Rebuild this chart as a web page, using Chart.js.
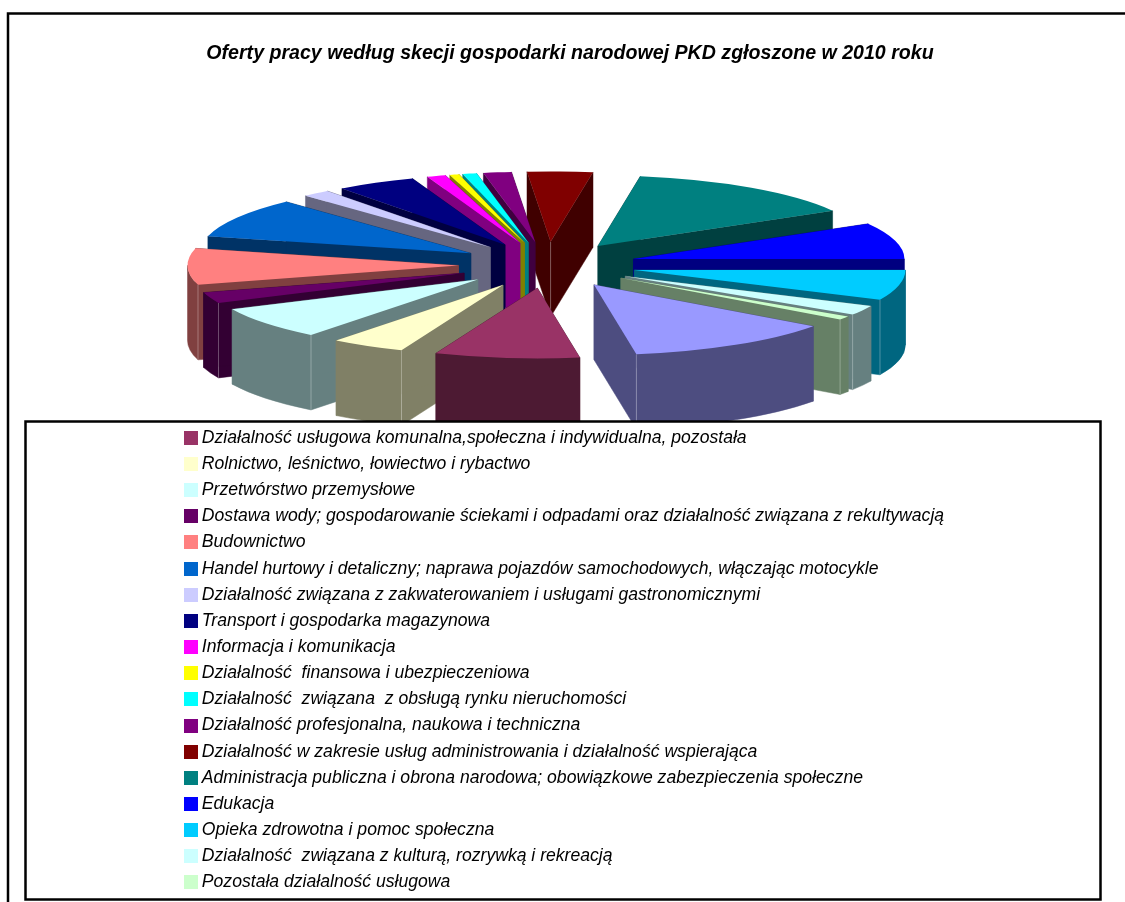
<!DOCTYPE html>
<html lang="pl"><head><meta charset="utf-8">
<style>html,body{margin:0;padding:0;background:#fff;overflow:hidden}canvas{display:block}</style>
<script src="https://cdn.jsdelivr.net/npm/chart.js@4"></script>
</head><body>
<canvas id="c" width="1125" height="902"></canvas>
<script>
const titleText = "Oferty pracy według skecji gospodarki narodowej PKD zgłoszone w 2010 roku";
const categories = [
  "(pozycja poza legendą)",
  "Działalność usługowa komunalna,społeczna i indywidualna, pozostała",
  "Rolnictwo, leśnictwo, łowiectwo i rybactwo",
  "Przetwórstwo przemysłowe",
  "Dostawa wody; gospodarowanie ściekami i odpadami oraz działalność związana z rekultywacją",
  "Budownictwo",
  "Handel hurtowy i detaliczny; naprawa pojazdów samochodowych, włączając motocykle",
  "Działalność związana z zakwaterowaniem i usługami gastronomicznymi",
  "Transport i gospodarka magazynowa",
  "Informacja i komunikacja",
  "Działalność  finansowa i ubezpieczeniowa",
  "Działalność  związana  z obsługą rynku nieruchomości",
  "Działalność profesjonalna, naukowa i techniczna",
  "Działalność w zakresie usług administrowania i działalność wspierająca",
  "Administracja publiczna i obrona narodowa; obowiązkowe zabezpieczenia społeczne",
  "Edukacja",
  "Opieka zdrowotna i pomoc społeczna",
  "Działalność  związana z kulturą, rozrywką i rekreacją",
  "Pozostała działalność usługowa"
];
const shares = [45,31,16,27,9,30,33,6,17,4,2,3,6,14,51,30,25,8,3];
const colors = ["#9999FF","#993366","#FFFFCC","#CCFFFF","#660066","#FF8080","#0066CC","#CCCCFF","#000080","#FF00FF","#FFFF00","#00FFFF","#800080","#800000","#008080","#0000FF","#00CCFF","#CCFFFF","#CCFFCC"];

const PIE = {cx:547.5, cy:265, radius:271, squash:0.26, explode:89, depth:75, clipBottom:421};

function darken(hex){
  const n = parseInt(hex.slice(1),16);
  return `rgb(${(n>>16&255)*0.5},${(n>>8&255)*0.5},${(n&255)*0.5})`;
}
function swatch(color){
  const s = document.createElement('canvas'); s.width = 14; s.height = 14;
  const g = s.getContext('2d'); g.fillStyle = color; g.fillRect(0,0,14,14);
  return s;
}
const pie3d = {
  id:'pie3d',
  afterLayout(chart){
    const l = chart.legend;
    l.left = 179.5; l.right = 1100; l.top = 420.5; l.bottom = 902;
    const t = chart.titleBlock;
    t.left += 7.5; t.right += 7.5;
  },
  beforeDatasetDraw(chart, args){
    const ctx = chart.ctx, meta = args.meta;
    const {cx,cy,radius:R,squash:k,explode:E,depth:h,clipBottom} = PIE;
    const order = meta.data.map((el,i)=>({el,i,mid:(el.startAngle+el.endAngle)/2}))
      .sort((a,b)=>Math.sin(a.mid)-Math.sin(b.mid));
    ctx.save();
    ctx.beginPath(); ctx.rect(0,0,chart.width,clipBottom); ctx.clip();
    for(const {el,i,mid} of order){
      const ax = cx + Math.cos(mid)*E, ay = cy + Math.sin(mid)*E*k;
      const a = el.startAngle, b = el.endAngle;
      const pa = [ax+Math.cos(a)*R, ay+Math.sin(a)*R*k], pb = [ax+Math.cos(b)*R, ay+Math.sin(b)*R*k];
      const side = darken(colors[i]);
      ctx.fillStyle = side; ctx.strokeStyle = side; ctx.lineWidth = 0.5;
      for(const p of [pa,pb]){
        ctx.beginPath();
        ctx.moveTo(ax,ay); ctx.lineTo(p[0],p[1]); ctx.lineTo(p[0],p[1]+h); ctx.lineTo(ax,ay+h); ctx.closePath();
        ctx.fill(); ctx.stroke();
      }
      // outer wall: only the part of the rim that faces the viewer
      for(let n=-1;n<=1;n++){
        const s = Math.max(a,2*Math.PI*n), e = Math.min(b,2*Math.PI*n+Math.PI);
        if(e<=s) continue;
        ctx.beginPath();
        ctx.ellipse(ax,ay,R,R*k,0,s,e,false);
        ctx.ellipse(ax,ay+h,R,R*k,0,e,s,true);
        ctx.closePath(); ctx.fill(); ctx.stroke();
      }
      // faint highlight on visible vertical edges
      ctx.strokeStyle = 'rgba(255,255,255,0.3)'; ctx.lineWidth = 1;
      const vline = (x,y)=>{ctx.beginPath();ctx.moveTo(x,y);ctx.lineTo(x,y+h);ctx.stroke();};
      if(Math.cos(b)>0 && Math.sin(b)>0) vline(pb[0],pb[1]);
      if(Math.cos(a)<0 && Math.sin(a)>0) vline(pa[0],pa[1]);
      if(Math.cos(b)>0 && Math.cos(a)<0) vline(ax,ay);
      ctx.save();
      ctx.translate(ax,ay); ctx.scale(1,k); ctx.translate(-el.x,-el.y);
      el.draw(ctx);
      ctx.restore();
    }
    ctx.restore();
    return false;
  },
  afterDraw(chart){
    const ctx = chart.ctx;
    ctx.save();
    ctx.strokeStyle = '#000'; ctx.lineWidth = 2.5;
    ctx.beginPath(); ctx.moveTo(8,902); ctx.lineTo(8,13.5); ctx.lineTo(1125,13.5); ctx.stroke();
    ctx.strokeRect(25.5,421.5,1075,478);
    ctx.restore();
  }
};

new Chart(document.getElementById('c'), {
  type:'pie',
  data:{labels:categories, datasets:[{data:shares, backgroundColor:colors, borderWidth:0, hoverOffset:0}]},
  options:{
    responsive:false, animation:false, devicePixelRatio:1,
    rotation:126, radius:PIE.radius,
    layout:{padding:0},
    plugins:{
      tooltip:{enabled:false},
      title:{display:true, text:titleText, color:'#000', padding:{top:42,bottom:10},
        font:{family:'"Liberation Sans"', size:19.6, style:'italic', weight:'bold'}},
      legend:{position:'left', align:'start',
        labels:{color:'#000', padding:8.55, boxWidth:5, usePointStyle:true, pointStyleWidth:5,
          font:{family:'"Liberation Sans"', size:17.6, style:'italic'},
          generateLabels(chart){
            return Chart.overrides.pie.plugins.legend.labels.generateLabels(chart)
              .map(it=>Object.assign(it,{pointStyle:swatch(it.fillStyle), strokeStyle:'transparent', lineWidth:0}));
          },
          filter:item=>item.index!==0
        }}
    }
  },
  plugins:[pie3d]
});
</script></body></html>
